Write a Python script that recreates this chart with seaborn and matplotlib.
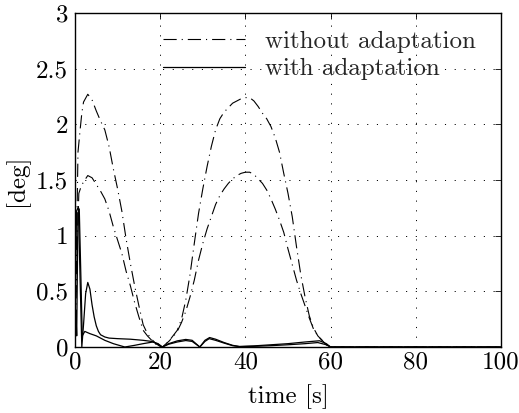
import numpy as np
import pandas as pd
import matplotlib
matplotlib.use("Agg")
import matplotlib.pyplot as plt
import seaborn as sns
from matplotlib.lines import Line2D

# ---------------- data ----------------
t_high = [0, 0.4, 0.7, 1.2, 1.6, 2.0, 3.0, 4.0, 5.0, 6.0, 7.0, 8.0, 9.0, 10.0, 11.0, 12.0,
          13.0, 14.0, 15.0, 16.0, 17.0, 18.0, 19.0, 20.0, 20.5, 22, 23, 24, 25, 26, 27, 28,
          29, 30, 31, 32, 33, 34, 35, 36, 37, 38, 39, 40, 41, 42, 43, 44, 45, 46, 47, 48,
          49, 50, 51, 52, 53, 54, 55, 56, 57, 58, 59, 60, 100]
y_high = [0, 1.0, 1.75, 1.95, 2.1, 2.2, 2.27, 2.22, 2.12, 2.03, 1.95, 1.8, 1.6, 1.42, 1.22, 0.97,
          0.75, 0.55, 0.37, 0.2, 0.12, 0.07, 0.03, 0.005, 0.0, 0.05, 0.1, 0.15, 0.25, 0.42, 0.65, 0.93,
          1.2, 1.42, 1.62, 1.8, 1.95, 2.05, 2.11, 2.15, 2.19, 2.21, 2.23, 2.24, 2.24, 2.21, 2.16, 2.1,
          2.05, 1.98, 1.88, 1.75, 1.56, 1.38, 1.17, 0.9, 0.65, 0.45, 0.28, 0.17, 0.1, 0.06, 0.02, 0.0, 0.0]

t_low = [0, 0.5, 0.9, 1.5, 2.3, 3.0, 4.0, 5.0, 6.0, 7.0, 8.0, 9.0, 10.0, 11.0, 12.0, 13.0,
         14.0, 15.0, 16.0, 17.0, 18.0, 19.0, 20.0, 20.5, 22, 23, 24, 25, 26, 27, 28, 29, 30,
         31, 32, 33, 34, 35, 36, 37, 38, 39, 40, 41, 42, 43, 44, 45, 46, 47, 48, 49, 50, 51,
         52, 53, 54, 55, 56, 57, 58, 59, 60, 100]
y_low = [0, 0.9, 1.38, 1.45, 1.5, 1.54, 1.52, 1.46, 1.4, 1.33, 1.22, 1.08, 0.96, 0.84, 0.68, 0.55,
         0.4, 0.27, 0.15, 0.1, 0.06, 0.025, 0.005, 0.0, 0.05, 0.09, 0.14, 0.22, 0.32, 0.45, 0.6, 0.78, 0.93,
         1.06, 1.17, 1.28, 1.36, 1.42, 1.47, 1.51, 1.54, 1.56, 1.57, 1.57, 1.55, 1.51, 1.47, 1.41, 1.33,
         1.24, 1.14, 1.03, 0.88, 0.74, 0.6, 0.48, 0.37, 0.26, 0.16, 0.1, 0.06, 0.02, 0.0, 0.0]

t_adA = [0, 0.35, 0.8, 1.2, 1.6, 2.0, 2.5, 3.0, 3.5, 4.0, 4.5, 5.0, 5.5, 6.0, 7.0, 8.0, 10, 13,
         16, 18, 19.5, 20.5, 22, 24, 26, 27.5, 29.3, 30.5, 31.6, 33, 35, 37, 38.6, 42, 46, 50,
         54, 57.4, 59, 60, 100]
y_adA = [0, 1.22, 1.26, 0.6, 0.0, 0.2, 0.48, 0.58, 0.52, 0.38, 0.27, 0.19, 0.14, 0.11, 0.09, 0.08,
         0.075, 0.07, 0.06, 0.05, 0.03, 0.0, 0.03, 0.055, 0.068, 0.06, 0.0, 0.06, 0.085, 0.07, 0.04,
         0.015, 0.005, 0.01, 0.02, 0.03, 0.045, 0.056, 0.03, 0.0, 0.0]

t_adB = [0, 0.2, 0.4, 0.7, 1.0, 1.4, 1.7, 2.3, 3.5, 5, 7, 9, 11.7, 14, 16, 18.3, 19.5, 20.5,
         22, 24, 26, 27.5, 29.3, 30.5, 31.5, 33, 35, 37, 38.6, 42, 46, 50, 54, 57, 59, 60, 100]
y_adB = [0, 0.33, 0.1, 1.2, 1.24, 0.6, 0.1, 0.14, 0.12, 0.1, 0.06, 0.03, 0.0, 0.015, 0.03, 0.045,
         0.025, 0.0, 0.025, 0.045, 0.058, 0.05, 0.0, 0.05, 0.075, 0.06, 0.035, 0.012, 0.003, 0.006,
         0.012, 0.02, 0.03, 0.04, 0.02, 0.0, 0.0]

x_ticks = [0, 20, 40, 60, 80, 100]
y_ticks = [0, 0.5, 1, 1.5, 2, 2.5, 3]
y_tick_labels = ["0", "0.5", "1", "1.5", "2", "2.5", "3"]
legend_labels = ["without adaptation", "with adaptation"]
x_label = "time [s]"
y_label = "[deg]"

# ---------------- style ----------------
sns.set_theme(style="white")
plt.rcParams["font.family"] = ["cmr10", "DejaVu Serif"]
plt.rcParams["axes.formatter.use_mathtext"] = True
plt.rcParams["lines.scale_dashes"] = False
plt.rcParams["axes.unicode_minus"] = False

DASHDOT = (0, (9.5, 3.6, 0.8, 3.6))

fig = plt.figure(figsize=(5.19, 4.13), dpi=100)
ax = fig.add_axes([75 / 519, 66 / 413, 426 / 519, 334 / 413])

for tt, yy in [(t_high, y_high), (t_low, y_low)]:
    df = pd.DataFrame({"t": tt, "y": yy})
    sns.lineplot(data=df, x="t", y="y", ax=ax, color="black", lw=0.8,
                 linestyle=DASHDOT, estimator=None, sort=False)
for tt, yy in [(t_adA, y_adA), (t_adB, y_adB)]:
    df = pd.DataFrame({"t": tt, "y": yy})
    sns.lineplot(data=df, x="t", y="y", ax=ax, color="black", lw=0.9,
                 linestyle="-", estimator=None, sort=False)

ax.set_xlim(0, 100)
ax.set_ylim(0, 3)
ax.set_xticks(x_ticks)
ax.set_xticklabels([str(v) for v in x_ticks])
ax.set_yticks(y_ticks)
ax.set_yticklabels(y_tick_labels)
ax.tick_params(direction="in", top=True, right=True, length=4, width=0.6,
               labelsize=18, colors="black")
ax.tick_params(axis="y", pad=5)
ax.tick_params(axis="x", pad=3)
ax.grid(True, color="black", linestyle=(0, (0.8, 6.2)), linewidth=0.7)
for s in ax.spines.values():
    s.set_color("black")
    s.set_linewidth(1.0)
ax.set_xlabel(x_label, fontsize=18, color="black", labelpad=8)
ax.set_ylabel(y_label, fontsize=18, color="black", labelpad=5)

handles = [Line2D([], [], color="black", lw=0.8, linestyle=DASHDOT),
           Line2D([], [], color="black", lw=0.9, linestyle="-")]
ax.legend(handles, legend_labels, loc="upper left", bbox_to_anchor=(0.165, 1.0),
          frameon=False, fontsize=18, handlelength=3.3, handletextpad=0.8,
          labelspacing=0.2, borderpad=0.2)

fig.savefig("out.png", dpi=100)
